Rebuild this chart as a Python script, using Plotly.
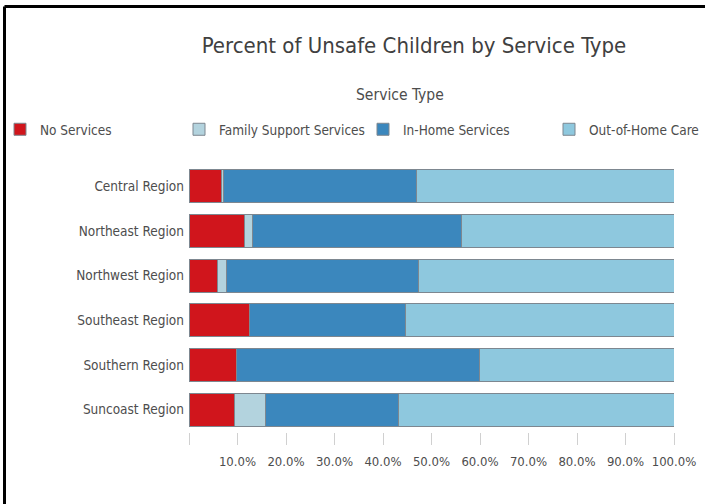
import plotly.graph_objects as go

regions = ["Central Region", "Northeast Region", "Northwest Region",
           "Southeast Region", "Southern Region", "Suncoast Region"]
no_services = [6.8, 11.5, 5.8, 12.4, 9.7, 9.3]
family_support = [0.4, 1.5, 2.0, 0.0, 0.0, 6.4]
in_home = [39.8, 43.1, 39.6, 32.3, 50.1, 27.4]
out_of_home = [53.0, 43.9, 52.6, 55.3, 40.2, 56.9]
tick_vals = [0, 10, 20, 30, 40, 50, 60, 70, 80, 90, 100]
tick_text = ["", "10.0%", "20.0%", "30.0%", "40.0%", "50.0%", "60.0%",
             "70.0%", "80.0%", "90.0%", "100.0%"]

FONT = "DejaVu Sans Condensed, Liberation Sans Narrow, Arial Narrow, sans-serif"
series = [
    ("No Services", no_services, "#d0151c", "legend", 0),
    ("Family Support Services", family_support, "#b3d3de", "legend2", 179),
    ("In-Home Services", in_home, "#3b87bd", "legend3", 363),
    ("Out-of-Home Care", out_of_home, "#8ec8de", "legend4", 549),
]

W, H = 705, 504
L, R, T, B = 189, 31, 164, 72
pw, ph = W - L - R, H - T - B

def px_x(p):
    return (p - L) / pw

def px_y(p):
    return (H - B - p) / ph

fig = go.Figure()
legends = {}
for name, vals, color, leg, lx in series:
    fig.add_trace(go.Bar(
        y=regions, x=vals, name=name, orientation="h", legend=leg,
        showlegend=True,
        marker=dict(color=color, line=dict(color="#7d8790", width=1)),
    ))
    legends[leg] = dict(
        orientation="h", xref="container", yref="container",
        x=lx / W, xanchor="left", y=1 - 114 / H, yanchor="top",
        bgcolor="rgba(0,0,0,0)",
        font=dict(family=FONT, size=13.5, color="#4d4d4d"),
    )

fig.update_layout(
    width=W, height=H,
    showlegend=True,
    margin=dict(l=L, r=R, t=T, b=B, autoexpand=False),
    barmode="stack", bargap=0.26,
    paper_bgcolor="white", plot_bgcolor="white",
    font=dict(family=FONT, color="#4d4d4d", size=13),
    title=dict(text="Percent of Unsafe Children by Service Type",
               x=414 / W, xanchor="center", y=1 - 45 / H, yanchor="middle",
               font=dict(family=FONT, size=22, color="#404040")),
    annotations=[
        dict(text="Service Type", xref="paper", yref="paper",
             x=px_x(400), y=px_y(95), xanchor="center", yanchor="middle",
             showarrow=False, font=dict(family=FONT, size=15.5, color="#4d4d4d")),
    ],
    xaxis=dict(range=[0, 100], tickvals=tick_vals, ticktext=tick_text,
               showgrid=False, zeroline=False, showline=False,
               ticks="outside", ticklen=12, tickcolor="#d0d0d0",
               tickfont=dict(family=FONT, size=13, color="#4d4d4d"),
               ticklabelstandoff=5, fixedrange=True),
    yaxis=dict(autorange="reversed", showgrid=False, zeroline=False,
               showline=False, ticks="", ticklabelstandoff=4,
               tickfont=dict(family=FONT, size=13.5, color="#4d4d4d")),
    shapes=[
        dict(type="line", xref="paper", yref="paper",
             x0=px_x(4.5), x1=px_x(W + 2), y0=px_y(6.5), y1=px_y(6.5),
             line=dict(color="black", width=3)),
        dict(type="line", xref="paper", yref="paper",
             x0=px_x(4.5), x1=px_x(4.5), y0=px_y(6.5), y1=px_y(H + 2),
             line=dict(color="black", width=3)),
    ],
    **legends,
)

fig.write_html(
    "out.html",
    config={"displayModeBar": False},
    post_script="document.body.style.margin='0';document.body.style.overflow='hidden';",
)
